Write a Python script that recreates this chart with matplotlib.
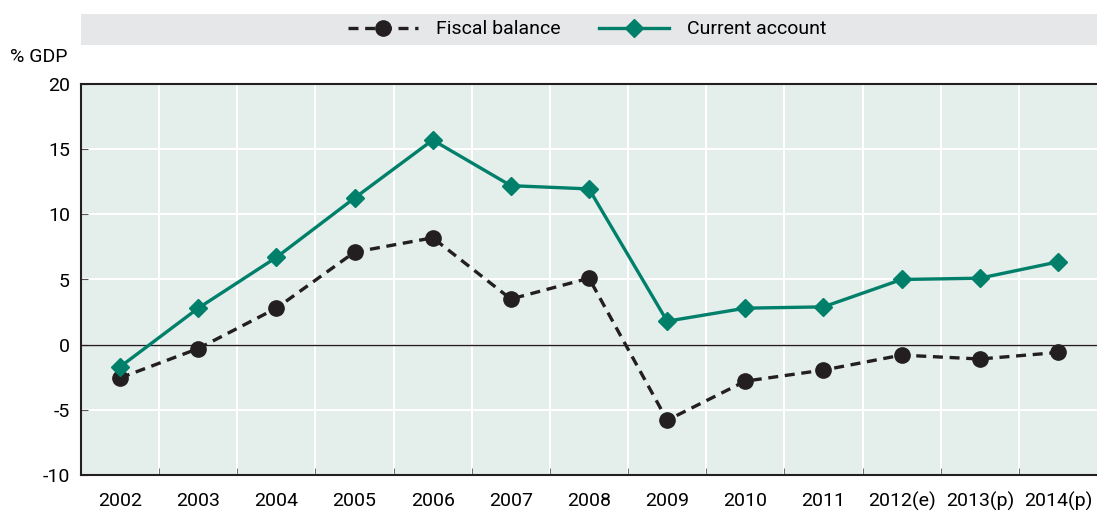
import matplotlib.pyplot as plt
from matplotlib.patches import Rectangle
from matplotlib import font_manager

years = ['2002', '2003', '2004', '2005', '2006', '2007', '2008', '2009',
         '2010', '2011', '2012(e)', '2013(p)', '2014(p)']
fiscal_balance = [-2.55, -0.3, 2.8, 7.1, 8.2, 3.5, 5.1, -5.8, -2.8, -1.95, -0.8, -1.1, -0.6]
current_account = [-1.7, 2.8, 6.7, 11.25, 15.7, 12.2, 11.95, 1.8, 2.8, 2.9, 5.0, 5.1, 6.35]
y_ticks = [-10, -5, 0, 5, 10, 15, 20]

green = '#00806a'
installed = {f.name for f in font_manager.fontManager.ttflist}
families = [f for f in ['Liberation Sans Narrow', 'DejaVu Sans Condensed', 'Roboto'] if f in installed]
plt.rcParams['font.family'] = families + ['DejaVu Sans']
plt.rcParams['font.stretch'] = 'condensed'

fig = plt.figure(figsize=(10.97, 5.11), dpi=100)
ax = fig.add_axes([81 / 1097, 36 / 511, 1016 / 1097, 391 / 511])
ax.set_facecolor('#e4eeeb')

x = list(range(len(years)))
ax.plot(x, fiscal_balance, color='#231f20', ls=(0, (3, 2)), lw=2.4,
        marker='o', ms=11, label='Fiscal balance', zorder=4)
ax.plot(x, current_account, color=green, lw=2.4,
        marker='D', ms=9.5, label='Current account', zorder=5)

ax.set_xlim(-0.5, len(years) - 0.5)
ax.set_ylim(-10, 20)
ax.set_yticks(y_ticks)
ax.set_yticklabels([str(v) for v in y_ticks], fontsize=14)
ax.set_xticks(x)
ax.set_xticklabels(years, fontsize=14)
ax.tick_params(axis='x', length=0, pad=12)
ax.tick_params(axis='y', length=5, direction='in', color='#555555', pad=8)
ax.set_xticks([i + 0.5 for i in x[:-1]], minor=True)
ax.tick_params(axis='x', which='minor', length=5, direction='in', color='#555555')
ax.grid(True, which='minor', axis='x', color='white', lw=1.5)
ax.grid(True, which='major', axis='y', color='white', lw=1.5)
ax.set_axisbelow(True)
ax.axhline(0, color='#231f20', lw=1, zorder=2)

for side in ['left', 'bottom', 'top']:
    ax.spines[side].set_color('#231f20')
    ax.spines[side].set_linewidth(1.5)
ax.spines['right'].set_visible(False)

fig.text(10 / 1097, 1 - 57 / 511, '% GDP', fontsize=14, va='center')

# legend band
fig.patches.append(Rectangle((81 / 1097, 1 - 45 / 511), 1016 / 1097, 31 / 511,
                             transform=fig.transFigure, facecolor='#e6e7e8',
                             edgecolor='none', zorder=0))
fig.legend(loc='center', bbox_to_anchor=(587 / 1097, 1 - 29.5 / 511), ncol=2,
           frameon=False, fontsize=14, handlelength=3.6, columnspacing=2.0,
           handletextpad=0.9)

fig.savefig('out.png', dpi=100)
